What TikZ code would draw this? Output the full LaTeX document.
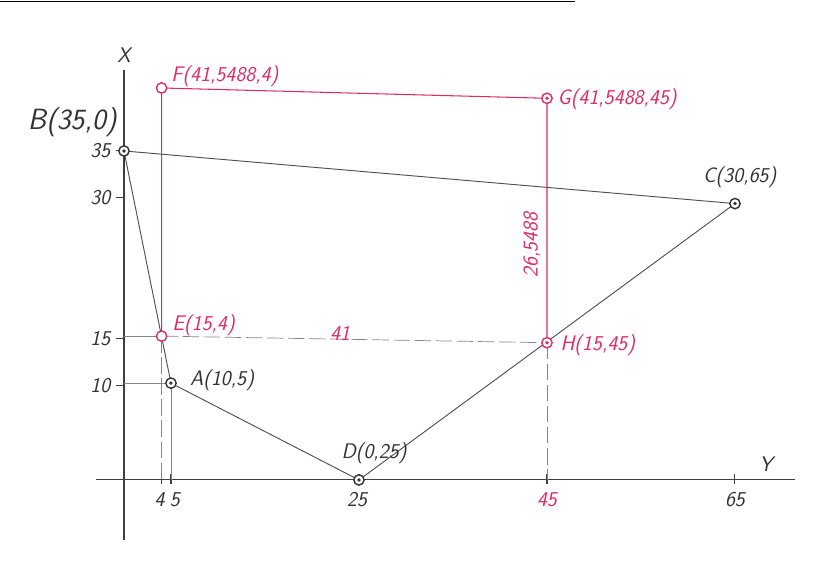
\documentclass[tikz,border=0pt]{standalone}
\definecolor{ink}{RGB}{80,80,80}
\definecolor{pinkred}{RGB}{222,42,102}
\begin{document}
\begin{tikzpicture}[x=0.282cm,y=0.282cm,font=\fontsize{18}{21}\selectfont\sffamily\itshape]
  \useasboundingbox (-13.19,-9.47) rectangle (74.26,51.06);
  \def\mk{0.55}
  \def\pkt(#1)[#2]#3{%
    \draw[#2,line width=1.2pt,fill=white] (#1) circle (\mk);
    \ifx#3d\fill[#2] (#1) circle (0.2);\fi
  }
  \tikzset{axis/.style={black!75,line width=0.9pt},
           edge/.style={ink,line width=0.8pt},
           aux/.style={ink!70,line width=0.6pt},
           auxd/.style={aux,dash pattern=on 14pt off 4pt},
           rline/.style={pinkred,line width=0.9pt}}
  % scan edge
  \coordinate (tl) at (-13.19,50.9);
  \coordinate (tr) at (48,50.9);
  \draw[black,line width=1.6pt] (tl) -- (tr);

  \coordinate (O) at (0,0);
  \coordinate (xtop) at (0,43.6);
  \coordinate (xbot) at (0,-6.4);
  \coordinate (yl) at (-3,0);
  \coordinate (yr) at (71.4,0);
  \coordinate (B) at (0,35);
  \coordinate (C) at (65,29.4);
  \coordinate (A) at (5,10.3);
  \coordinate (D) at (25,0);
  \coordinate (E) at (4,15.3);
  \coordinate (H) at (45,14.6);
  \coordinate (F) at (4,41.7);
  \coordinate (G) at (45,40.6);

  \draw[axis] (xbot) -- (xtop);
  \draw[axis] (yl) -- (yr);
  \foreach \v in {35,30,15,10}
    \draw[axis] (-0.9,\v) -- (0,\v) node[black!80,anchor=east,xshift=-8pt] (tx\v) {\v};
  \foreach \h in {4,5,25,65}
    \draw[axis] (\h,-0.4) -- (\h,0.6);
  \draw[axis] (45,-0.4) -- (45,0.6);
  \node[black!80] (ty4) at (3.8,-2.1) {4};
  \node[black!80] (ty5) at (5.4,-2.1) {5};
  \node[black!80] (ty25) at (24.8,-2.1) {25};
  \node[pinkred] (ty45) at (45,-2.1) {45};
  \node[black!80] (ty65) at (65,-2.1) {65};
  \node[black!80] (lX) at (0,45.2) {X};
  \node[black!80] (lY) at (68.3,1.7) {Y};

  % helper lines
  \draw[aux] (E -| O) -- (E);
  \draw[auxd] (E) -- (H);
  \draw[auxd] (E) -- (E |- O);
  \draw[aux] (A -| O) -- (A);
  \draw[aux] (A) -- (A |- O);
  \draw[auxd] (H) -- (H |- O);

  % polygon
  \draw[edge] (B) -- (C) -- (D) -- (A) -- (B);
  \draw[rline] (E) -- (F) -- (G) -- (H);

  \pkt(B)[black!80]d
  \pkt(C)[black!80]d
  \pkt(A)[black!80]d
  \pkt(D)[black!80]d
  \pkt(E)[pinkred]o
  \pkt(F)[pinkred]o
  \pkt(G)[pinkred]d
  \pkt(H)[pinkred]d

  \node[black!80,font=\fontsize{25}{28}\selectfont\sffamily\itshape] (lB) at (-5.5,38.1) {B(35,0)};
  \node[black!80] (lC) at (65.5,32.2) {C(30,65)};
  \node[black!80,anchor=west] (lA) at (6.6,10.6) {A(10,5)};
  \node[black!80] (lD) at (26.6,2.8) {D(0,25)};
  \node[pinkred,anchor=west] (lF) at (4.6,42.9) {F(41,5488,4)};
  \node[pinkred,anchor=west] (lG) at (45.7,40.5) {G(41,5488,45)};
  \node[pinkred,anchor=west] (lE) at (4.7,16.5) {E(15,4)};
  \node[pinkred,anchor=west] (lH) at (46,14.3) {H(15,45)};
  \node[pinkred] (l41) at (23,15.6) {41};
  \node[pinkred,rotate=90] (lFH) at (43.4,25) {26,5488};
\end{tikzpicture}
\end{document}
